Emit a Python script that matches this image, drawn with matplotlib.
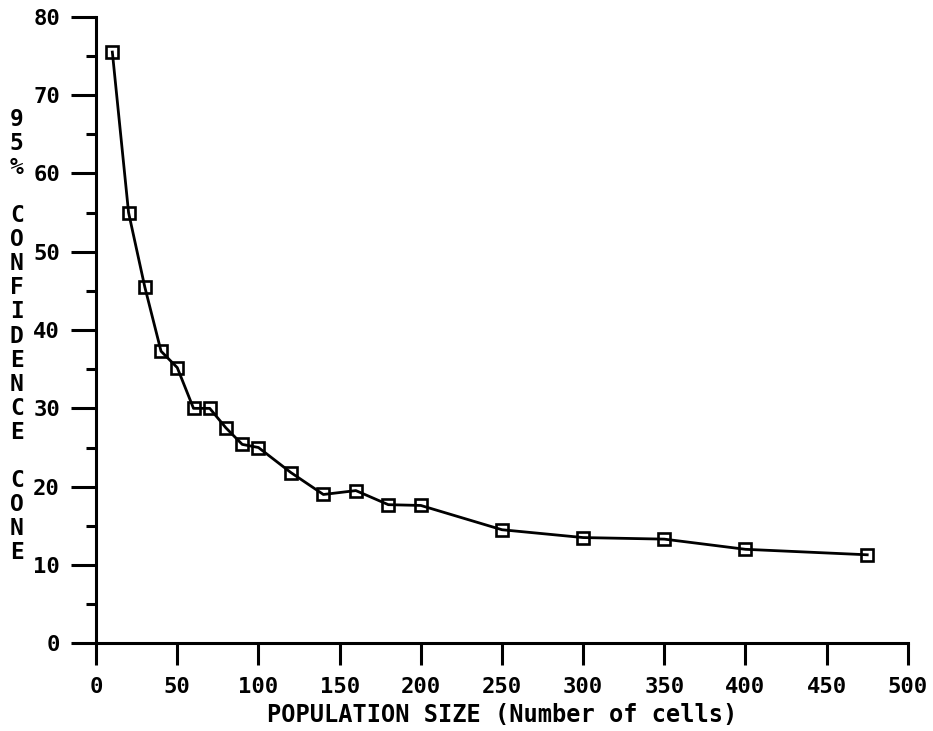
import numpy as np
from matplotlib import pyplot as plt
from matplotlib import ticker as ticker

# population size (number of cells) vs 95% confidence cone (deg)
pop_size = [10, 20, 30, 40, 50, 60, 70, 80, 90, 100,
            120, 140, 160, 180, 200, 250, 300, 350, 400, 475]
cone = [75.5, 55.0, 45.5, 37.3, 35.2, 30.0, 30.0, 27.5, 25.4, 25.0,
        21.8, 19.0, 19.5, 17.7, 17.6, 14.5, 13.5, 13.3, 12.0, 11.3]

x_ticks = [0, 50, 100, 150, 200, 250, 300, 350, 400, 450, 500]
y_ticks = [0, 10, 20, 30, 40, 50, 60, 70, 80]

ylabel_chars = list("95%") + [" "] + list("CONFIDENCE") + [" "] + list("CONE")

mono = 'DejaVu Sans Mono'

fig = plt.figure(figsize=(9.33, 7.31), dpi=100)
ax = fig.add_axes([0.103, 0.120, 0.870, 0.857])

ax.plot(pop_size, cone, color='black', linewidth=2.0,
        marker='s', markersize=8, markerfacecolor='none',
        markeredgecolor='black', markeredgewidth=1.9)

ax.set_xlim(0, 500)
ax.set_ylim(0, 80)
ax.spines['top'].set_visible(False)
ax.spines['right'].set_visible(False)
ax.spines['left'].set_linewidth(2.2)
ax.spines['bottom'].set_linewidth(2.2)

ax.set_xticks(x_ticks)
ax.set_yticks(y_ticks)
ax.yaxis.set_minor_locator(ticker.MultipleLocator(5))
ax.tick_params(axis='both', which='major', direction='out', width=2.2,
               labelsize=16, pad=8)
ax.tick_params(axis='y', which='major', length=18)
ax.tick_params(axis='y', which='minor', direction='out', length=7, width=2.2)
ax.tick_params(axis='x', which='major', length=16)
for lab in ax.get_xticklabels() + ax.get_yticklabels():
    lab.set_fontfamily(mono)
    lab.set_fontweight('bold')

ax.set_xlabel('POPULATION SIZE (Number of cells)', fontsize=17,
              fontfamily=mono, fontweight='bold')
ax.xaxis.set_label_coords(0.5, -0.096)

fig.text(0.018, 1 - 336 / 731, '\n'.join(ylabel_chars), ha='center', va='center',
         fontsize=16.5, fontfamily=mono, fontweight='bold', linespacing=1.06)

fig.savefig('out.png', dpi=100)
